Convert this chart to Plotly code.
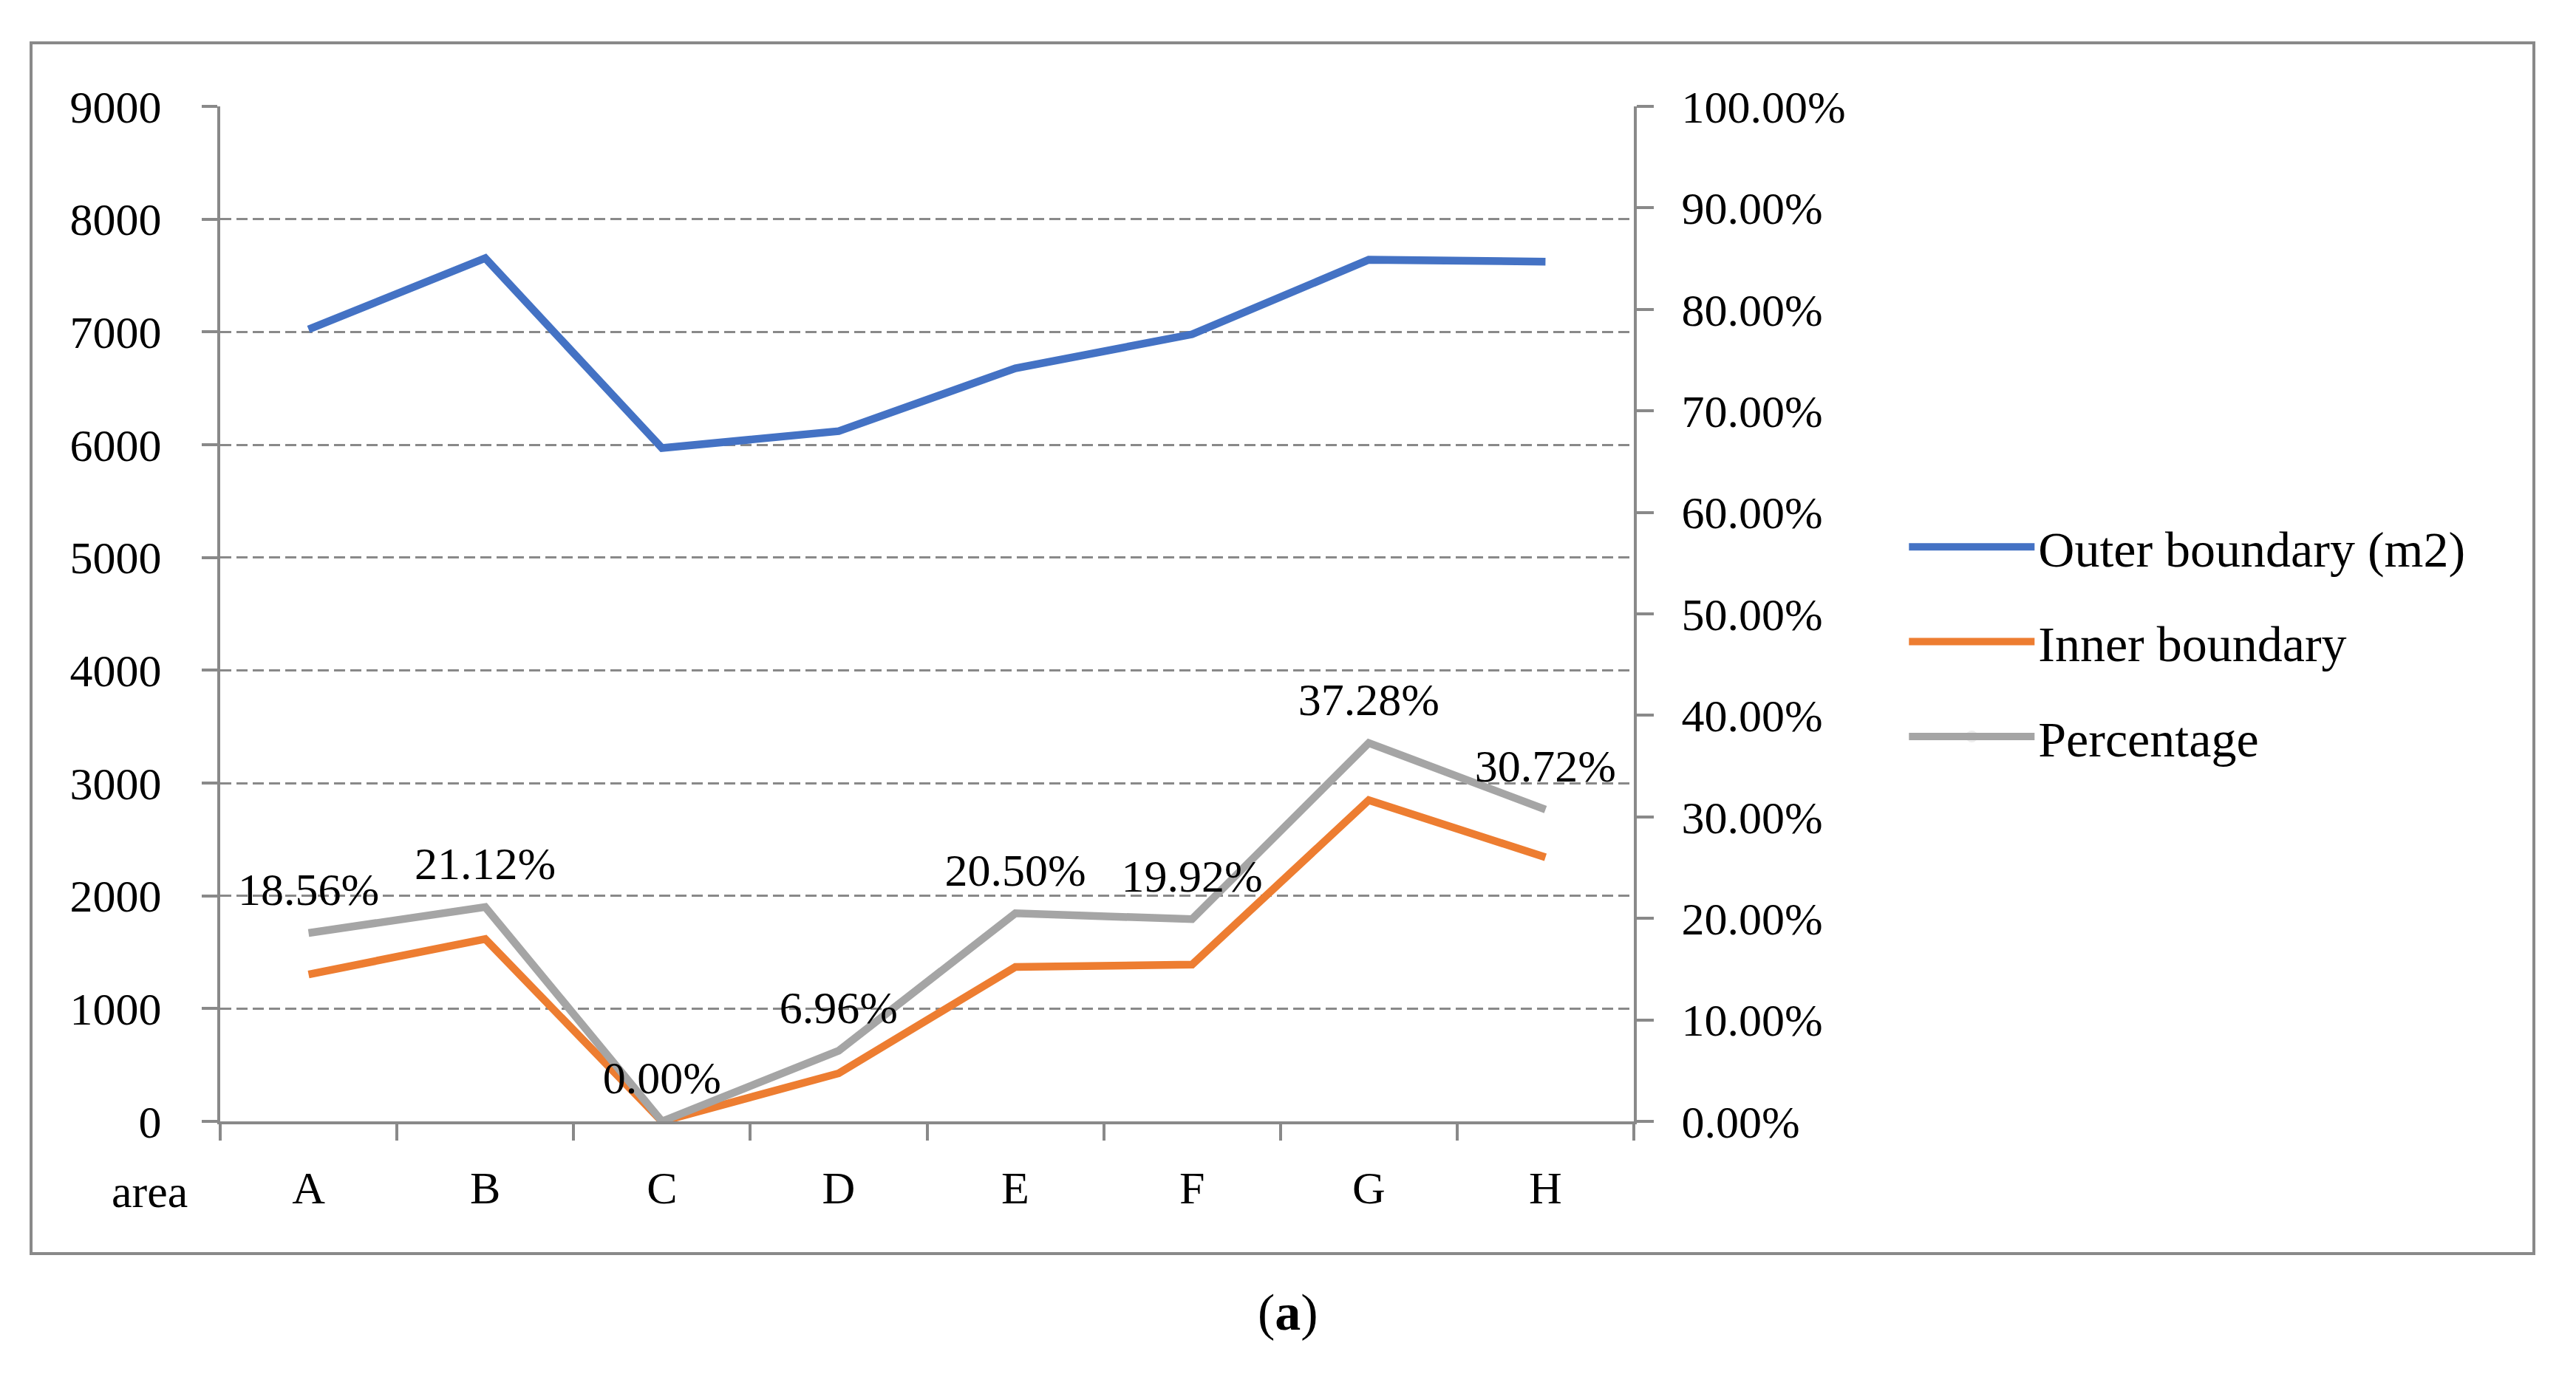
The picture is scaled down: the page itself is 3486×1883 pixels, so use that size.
import plotly.graph_objects as go

areas = ["A", "B", "C", "D", "E", "F", "G", "H"]
outer = [7023, 7654, 5970, 6120, 6678, 6979, 7640, 7623]
inner = [1303, 1617, 0, 426, 1369, 1390, 2848, 2342]
percentage = [0.1856, 0.2112, 0.0, 0.0696, 0.2050, 0.1992, 0.3728, 0.3072]
series_names = ["Outer boundary (m2)", "Inner boundary", "Percentage"]
colors = ["#4472C4", "#ED7D31", "#A5A5A5"]
left_ticks = list(range(0, 9001, 1000))
right_ticks = [i / 10 for i in range(0, 11)]

FONT = "Liberation Serif"
FS = 62
AX = "#898989"

fig = go.Figure()
fig.add_trace(go.Scatter(x=areas, y=outer, name=series_names[0], mode="lines",
                         line=dict(color=colors[0], width=10.5), legendgroup="g1"))
fig.add_trace(go.Scatter(x=areas, y=inner, name=series_names[1], mode="lines",
                         line=dict(color=colors[1], width=10.5), legendgroup="g2"))
fig.add_trace(go.Scatter(x=areas, y=percentage, name=series_names[2], yaxis="y2",
                         mode="lines+markers+text",
                         marker=dict(size=34, opacity=0, color=colors[2]),
                         text=[f"{v:.2%}" for v in percentage],
                         textposition="top center",
                         textfont=dict(family=FONT, size=FS, color="black"),
                         line=dict(color=colors[2], width=10.5), legendgroup="g3"))

fig.update_layout(
    width=3486, height=1883,
    margin=dict(l=298, r=1275, t=144, b=365),
    paper_bgcolor="white", plot_bgcolor="white",
    font=dict(family=FONT, size=FS, color="black"),
    xaxis=dict(type="category", range=[-0.5, 7.5], showgrid=False,
               showline=True, linecolor=AX, linewidth=4,
               ticks="outside", tickson="boundaries", ticklen=22, tickwidth=4, tickcolor=AX,
               ticklabelstandoff=33, zeroline=False),
    yaxis=dict(range=[0, 9000], tickvals=left_ticks, showgrid=True, gridcolor=AX,
               gridwidth=3, griddash="15px,7px", showline=True, linecolor=AX, linewidth=4,
               ticks="outside", ticklen=21, tickwidth=4, tickcolor=AX,
               ticklabelstandoff=42, zeroline=False),
    yaxis2=dict(range=[0, 1], overlaying="y", side="right", tickvals=right_ticks,
                tickformat=".2%", showgrid=False, showline=True, linecolor=AX, linewidth=4,
                ticks="outside", ticklen=23, tickwidth=4, tickcolor=AX,
                ticklabelstandoff=25, zeroline=False),
    showlegend=True,
    legend=dict(x=1.192, y=0.603, xanchor="left", yanchor="top", itemwidth=170,
                tracegroupgap=37, font=dict(family=FONT, size=68, color="black"),
                bgcolor="rgba(0,0,0,0)"),
    shapes=[dict(type="rect", xref="paper", yref="paper",
                 x0=-0.1338, x1=1.6367, y0=-0.1303, y1=1.0626,
                 line=dict(color=AX, width=4), fillcolor="rgba(0,0,0,0)", layer="below")],
    annotations=[
        dict(text="area", xref="paper", yref="paper", x=-0.0497, y=-0.069,
             xanchor="center", yanchor="middle", showarrow=False,
             font=dict(family=FONT, size=FS, color="black")),
        dict(text="(<b>a</b>)", xref="paper", yref="paper", x=0.7554, y=-0.1885,
             xanchor="center", yanchor="middle", showarrow=False,
             font=dict(family=FONT, size=70, color="black")),
    ],
)

fig.write_html("out.html", config={"displayModeBar": False},
               post_script="document.body.style.margin='0';")
